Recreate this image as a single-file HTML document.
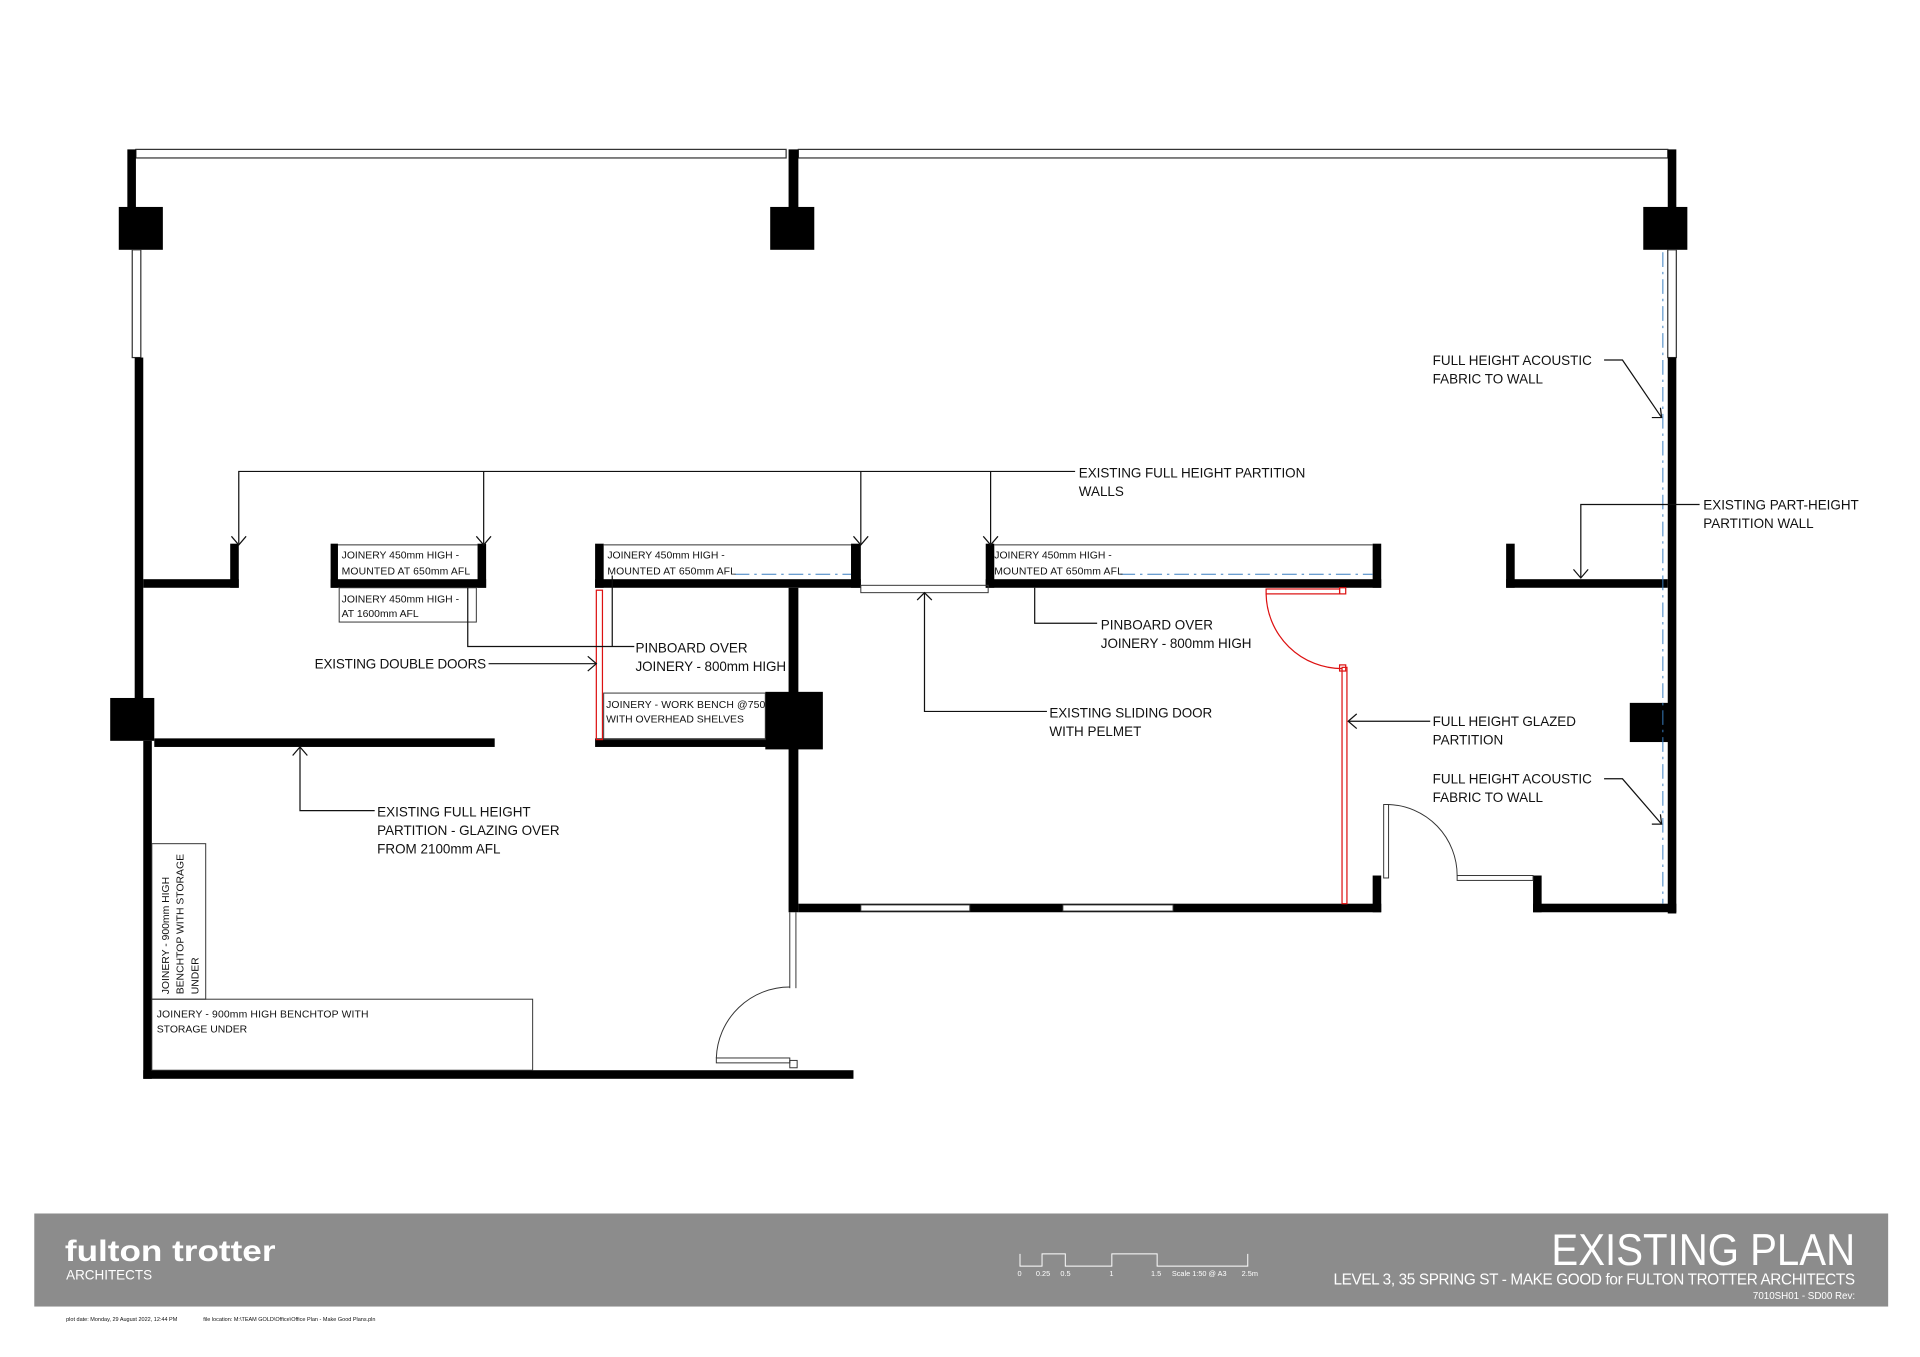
<!DOCTYPE html>
<html><head><meta charset="utf-8"><style>
html,body{margin:0;padding:0;background:#fff;}
svg{display:block;}
text{font-family:"Liberation Sans",sans-serif;fill:#111;}
.t{font-size:11px;}
.s{font-size:8.5px;}
</style></head><body>
<svg width="1920" height="1357" viewBox="0 0 1568 1108.2" preserveAspectRatio="none" xmlns="http://www.w3.org/2000/svg">
<rect width="1568" height="1109" fill="#fff"/>
<g fill="#000">
<rect x="111" y="122" width="531" height="7" fill="none" stroke="#333" stroke-width="1"/>
<rect x="652" y="122" width="710" height="7" fill="none" stroke="#333" stroke-width="1"/>
<rect x="104" y="122" width="7" height="50"/>
<rect x="644" y="122" width="8" height="50"/>
<rect x="1362" y="122" width="7" height="50"/>
<rect x="97" y="169" width="36" height="35"/>
<rect x="629" y="169" width="36" height="35"/>
<rect x="1342" y="169" width="36" height="35"/>
<rect x="108" y="204" width="7" height="88" fill="none" stroke="#333" stroke-width="1"/>
<rect x="110" y="292" width="7" height="280"/>
<rect x="90" y="570" width="36" height="35"/>
<rect x="117" y="605" width="7" height="276"/>
<rect x="117" y="874" width="580" height="7"/>
<rect x="126" y="603" width="278" height="7"/>
<rect x="117" y="473" width="78" height="7"/>
<rect x="188" y="444" width="7" height="36"/>
<rect x="270" y="444" width="6" height="36"/>
<rect x="390" y="444" width="7" height="36"/>
<rect x="270" y="473" width="127" height="7"/>
<rect x="486" y="444" width="7" height="36"/>
<rect x="695" y="444" width="8" height="36"/>
<rect x="486" y="473" width="217" height="7"/>
<rect x="644" y="480" width="8" height="265"/>
<rect x="625" y="565" width="47" height="47"/>
<rect x="486" y="603" width="160" height="7"/>
<rect x="805" y="444" width="7" height="36"/>
<rect x="1121" y="444" width="7" height="36"/>
<rect x="805" y="473" width="323" height="7"/>
<rect x="1230" y="444" width="7" height="36"/>
<rect x="1230" y="473" width="132" height="7"/>
<rect x="1362" y="204" width="7" height="88" fill="none" stroke="#333" stroke-width="1"/>
<rect x="1362" y="292" width="7" height="454"/>
<rect x="1331" y="574" width="36" height="32"/>
<rect x="652" y="738" width="476" height="7"/>
<rect x="1121" y="715" width="7" height="30"/>
<rect x="1252" y="715" width="7" height="30"/>
<rect x="1252" y="738" width="117" height="7"/>
</g>
<rect x="703" y="739" width="89" height="5" fill="#fff" stroke="#333" stroke-width="0.8"/>
<rect x="868" y="739" width="90" height="5" fill="#fff" stroke="#333" stroke-width="0.8"/>
<g fill="none" stroke="#333" stroke-width="0.8">
<line x1="276" y1="445" x2="390" y2="445"/>
<line x1="493" y1="445" x2="695" y2="445"/>
<line x1="812" y1="445" x2="1121" y2="445"/>
<rect x="277" y="480" width="112" height="28"/>
<rect x="493" y="566" width="132" height="38"/>
<rect x="124" y="689" width="44" height="127"/>
<rect x="124" y="816" width="311" height="58"/>
<rect x="703" y="478" width="104" height="6"/>
<line x1="645" y1="745" x2="645" y2="807"/><line x1="650" y1="745" x2="650" y2="807"/>
<rect x="585" y="864" width="60" height="4"/>
<path d="M585 864 A60 60 0 0 1 645 806"/>
<rect x="645" y="866" width="6" height="6"/>
<rect x="1130" y="657" width="4" height="60"/>
<path d="M1134 657 A58 58 0 0 1 1190 715"/>
<rect x="1190" y="715" width="62" height="4"/>
</g>
<g stroke="#3a7fc0" stroke-width="0.8" stroke-dasharray="12 4 2 4" fill="none">
<line x1="1358" y1="206" x2="1358" y2="738"/>
<line x1="600" y1="469" x2="695" y2="469"/>
<line x1="915" y1="469" x2="1121" y2="469"/>
</g>
<g fill="none" stroke="#d11" stroke-width="1">
<rect x="1096" y="545" width="4" height="193"/>
<rect x="1034" y="481" width="60" height="4"/>
<rect x="1094" y="480" width="5" height="5"/>
<rect x="1094" y="543" width="5" height="5"/>
<path d="M1034 485 A62 62 0 0 0 1096 546"/>
<rect x="487" y="482" width="5" height="122"/>
</g>
<g fill="none" stroke="#111" stroke-width="1">
<polyline points="195,444 195,385 878,385"/>
<line x1="395" y1="385" x2="395" y2="444"/>
<line x1="703" y1="385" x2="703" y2="444"/>
<line x1="809" y1="385" x2="809" y2="444"/>
<path d="M189 438 L195 445 L201 438 M389 438 L395 445 L401 438 M697 438 L703 445 L709 438 M803 438 L809 445 L815 438"/>
<polyline points="1310,294 1325,294 1357,341"/><path d="M1349 341 L1357 341 L1356 333"/>
<polyline points="1388,412 1291,412 1291,472"/><path d="M1285 465 L1291 472 L1297 465"/>
<polyline points="1310,636 1325,636 1357,673"/><path d="M1349 673 L1357 673 L1356 665"/>
<line x1="1101" y1="589" x2="1168" y2="589"/><path d="M1108 583 L1101 589 L1108 595"/>
<polyline points="845,480 845,509 896,509"/>
<polyline points="755,484 755,581 855,581"/><path d="M749 490 L755 484 L761 490"/>
<polyline points="382,480 382,528 518,528"/>
<line x1="500" y1="470" x2="500" y2="528"/>
<line x1="399" y1="542" x2="487" y2="542"/><path d="M480 536 L487 542 L480 548"/>
<polyline points="245,610 245,662 306,662"/><path d="M239 617 L245 610 L251 617"/>
</g>
<g class="t">
<text x="881" y="390" textLength="185">EXISTING FULL HEIGHT PARTITION</text><text x="881" y="405">WALLS</text>
<text x="1170" y="298" textLength="130">FULL HEIGHT ACOUSTIC</text><text x="1170" y="313">FABRIC TO WALL</text>
<text x="1391" y="416" textLength="127">EXISTING PART-HEIGHT</text><text x="1391" y="431">PARTITION WALL</text>
<text x="899" y="514">PINBOARD OVER</text><text x="899" y="529" textLength="123">JOINERY - 800mm HIGH</text>
<text x="519" y="533">PINBOARD OVER</text><text x="519" y="548" textLength="123">JOINERY - 800mm HIGH</text>
<text x="257" y="546" textLength="140">EXISTING DOUBLE DOORS</text>
<text x="857" y="586" textLength="133">EXISTING SLIDING DOOR</text><text x="857" y="601">WITH PELMET</text>
<text x="1170" y="593" textLength="117">FULL HEIGHT GLAZED</text><text x="1170" y="608">PARTITION</text>
<text x="1170" y="640" textLength="130">FULL HEIGHT ACOUSTIC</text><text x="1170" y="655">FABRIC TO WALL</text>
<text x="308" y="667">EXISTING FULL HEIGHT</text><text x="308" y="682" textLength="149">PARTITION - GLAZING OVER</text><text x="308" y="697">FROM 2100mm AFL</text>
</g>
<g class="s">
<text x="279" y="456">JOINERY 450mm HIGH -</text><text x="279" y="469" textLength="105">MOUNTED AT 650mm AFL</text>
<text x="279" y="492">JOINERY 450mm HIGH -</text><text x="279" y="504">AT 1600mm AFL</text>
<text x="496" y="456">JOINERY 450mm HIGH -</text><text x="496" y="469" textLength="105">MOUNTED AT 650mm AFL</text>
<text x="812" y="456">JOINERY 450mm HIGH -</text><text x="812" y="469" textLength="105">MOUNTED AT 650mm AFL</text>
<text x="495" y="578" textLength="130">JOINERY - WORK BENCH @750</text><text x="495" y="590">WITH OVERHEAD SHELVES</text>
<text x="128" y="831" textLength="173">JOINERY - 900mm HIGH BENCHTOP WITH</text><text x="128" y="843">STORAGE UNDER</text>
<text transform="translate(138,812) rotate(-90)">JOINERY - 900mm HIGH</text>
<text transform="translate(150,812) rotate(-90)">BENCHTOP WITH STORAGE</text>
<text transform="translate(162,812) rotate(-90)">UNDER</text>
</g>
<rect x="28" y="991" width="1514" height="76" fill="#8c8c8c"/>
<text x="53" y="1030" style="font-size:24px;font-weight:bold;fill:#fff;" textLength="172" lengthAdjust="spacingAndGlyphs">fulton trotter</text>
<text x="54" y="1045" style="font-size:11px;fill:#fff">ARCHITECTS</text>
<text x="1515" y="1033" text-anchor="end" style="font-size:36px;fill:#fff" textLength="248" lengthAdjust="spacingAndGlyphs">EXISTING PLAN</text>
<text x="1515" y="1049" text-anchor="end" style="font-size:12.5px;fill:#fff" textLength="426">LEVEL 3, 35 SPRING ST - MAKE GOOD for FULTON TROTTER ARCHITECTS</text>
<text x="1515" y="1061" text-anchor="end" style="font-size:8px;fill:#fff">7010SH01 - SD00   Rev:</text>
<g stroke="#fff" stroke-width="0.8" fill="none">
<polyline points="833,1024 833,1034 851,1034 851,1024 870,1024 870,1034 908,1034 908,1024 945,1024 945,1034 1019,1034 1019,1024"/>
</g>
<g style="font-size:6px">
<text x="831" y="1042" style="fill:#fff">0</text><text x="846" y="1042" style="fill:#fff">0.25</text><text x="866" y="1042" style="fill:#fff">0.5</text><text x="906" y="1042" style="fill:#fff">1</text><text x="940" y="1042" style="fill:#fff">1.5</text><text x="957" y="1042" style="fill:#fff">Scale 1:50 @ A3</text><text x="1014" y="1042" style="fill:#fff">2.5m</text>
</g>
<text x="54" y="1079" style="font-size:4.5px">plot date: Monday, 29 August 2022, 12:44 PM</text>
<text x="166" y="1079" style="font-size:4.5px">file location: M:\TEAM GOLD\Office\Office Plan - Make Good Plans.pln</text>
</svg>
</body></html>
